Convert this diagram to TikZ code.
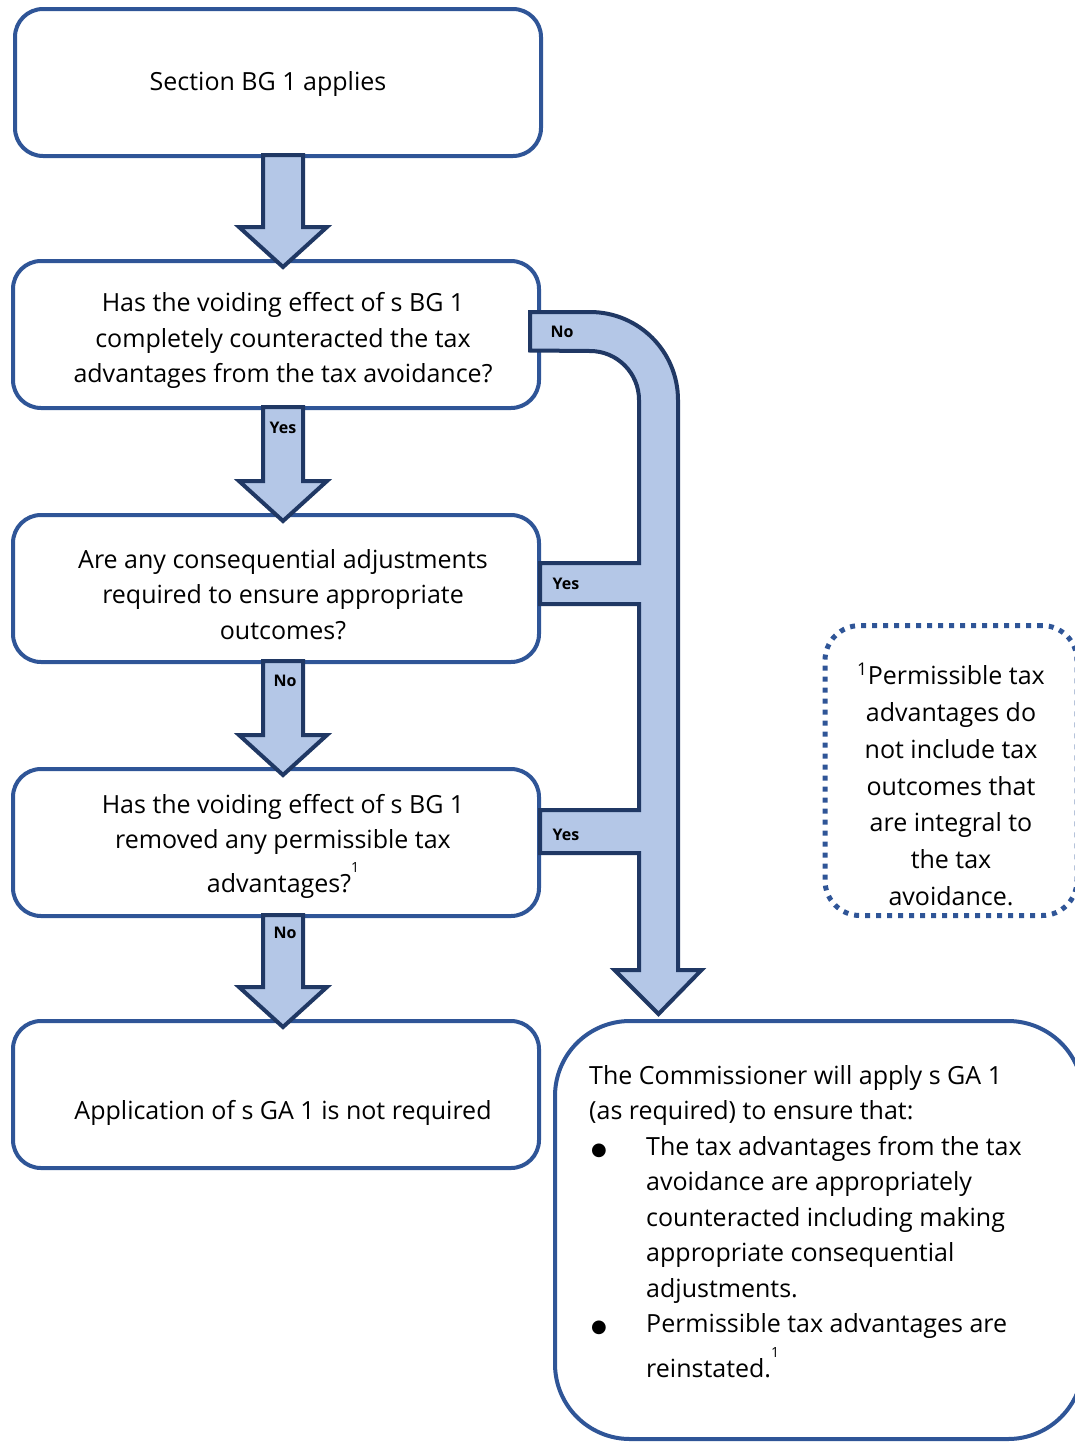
\documentclass[tikz,border=0pt]{standalone}
\usepackage{fontspec}
\setmainfont{Open Sans}
\newfontfamily\symbfont{DejaVu Sans}
\usepackage{xcolor}
\usetikzlibrary{arrows.meta,positioning,calc}

\definecolor{boxblue}{HTML}{2F5597}
\definecolor{arrowfill}{HTML}{B4C7E7}
\definecolor{arrowline}{HTML}{203864}
\newcommand{\supone}{\raisebox{0.8em}{\fontsize{14}{14}\selectfont 1}}
\newcommand{\bigdot}{\makebox[57pt][l]{\hspace*{2pt}{\symbfont\fontsize{18}{18}\selectfont ●}}}

\begin{document}
\begin{tikzpicture}[
  x=1pt, y=-1pt,
  box/.style={draw=boxblue, line width=4pt, rounded corners=28pt, outer sep=0pt,
    minimum width=526pt, minimum height=147pt, inner sep=0pt},
  boxtext/.style={align=center, inner sep=0pt,
    font=\fontsize{25}{35.5}\selectfont},
  fatarrow/.style={draw=arrowline, fill=arrowfill, line width=4pt, line join=miter},
  answer/.style={inner sep=0pt, font=\fontsize{16}{16}\selectfont\bfseries},
]
\clip (0,0) rectangle (1075,1443);

% Boxes
\node[box] (s0) at (278,82.5) {};
\node[box] (q1) at (276,334.5) {};
\node[box] (q2) at (276,588.5) {};
\node[box] (q3) at (276,842.5) {};
\node[box] (res0) at (276,1094.5) {};
\node[box, minimum width=528pt, minimum height=418pt, rounded corners=75pt] (res1) at (819,1230) {};

% Box texts
\node[boxtext] (s0t) at (268,84) {Section BG 1 applies};
\node[boxtext] (q1t) at (283,340.5) {Has the voiding effect of s BG 1\\completely counteracted the tax\\advantages from the tax avoidance?};
\node[boxtext] (q2t) at (283,594.5) {Are any consequential adjustments\\required to ensure appropriate\\outcomes?};
\node[boxtext] (q3t) at (283,846.5) {Has the voiding effect of s BG 1\\removed any permissible tax\\[7pt]advantages?\supone};
\node[boxtext] (res0t) at (283,1113) {Application of s GA 1 is not required};
\node[boxtext, align=left, anchor=north west] (res1t) at (589,1065) {The Commissioner will apply s GA 1\\
(as required) to ensure that:\\
\bigdot The tax advantages from the tax\\
\hspace*{57pt}avoidance are appropriately\\
\hspace*{57pt}counteracted including making\\
\hspace*{57pt}appropriate consequential\\
\hspace*{57pt}adjustments.\\
\bigdot Permissible tax advantages are\\[8pt]
\hspace*{57pt}reinstated.\supone};

% Footnote
\node[draw=boxblue, line width=5pt, dash pattern=on 5pt off 6pt, rounded corners=35pt,
  minimum width=252pt, minimum height=290pt] (note) at (951,770.5) {};
\node[boxtext, font=\fontsize{25}{36.8}\selectfont] (notet) at (951,784.5)
  {\textsuperscript{1}Permissible tax\\advantages do\\not include tax\\outcomes that\\are integral to\\the tax\\avoidance.};

% Downward arrows
\coordinate (col) at (283,0);
\foreach \from/\to in {s0/q1, q1/q2, q2/q3, q3/res0} {
  \draw[fatarrow] ($(\from.south -| col)+(-20,-1)$) -- ($(\to.north -| col)+(-20,-34)$)
    -- ++(-24,0) -- ($(\to.north -| col)+(0,6)$) -- ($(\to.north -| col)+(44,-34)$)
    -- ++(-24,0) -- ($(\from.south -| col)+(20,-1)$) -- cycle;
}

% Side arrow
\coordinate (rcol) at (658.5,0);
\draw[fatarrow] ($(q1.east)+(-9,-22.5)$) -- (590,312) arc[start angle=-90, end angle=0, radius=88]
  -- ($(res1.north -| rcol)+(19.5,-51)$) -- ++(23.5,0) -- ($(res1.north -| rcol)+(0,-7)$)
  -- ($(res1.north -| rcol)+(-44,-51)$) -- ++(24.5,0)
  -- ($(q3.east)+(100,10.5)$) -- ($(q3.east)+(1,10.5)$) -- ($(q3.east)+(1,-32.5)$)
  -- ($(q3.east)+(100,-32.5)$)
  -- ($(q2.east)+(100,15.5)$) -- ($(q2.east)+(1,15.5)$) -- ($(q2.east)+(1,-25.5)$)
  -- ($(q2.east)+(100,-25.5)$)
  -- (639,400) arc[start angle=0, end angle=-90, radius=49]
  -- ($(q1.east)+(-9,16)$) -- cycle;

% Answers
\node[answer] (a1) at (283,428) {Yes};
\node[answer] (a2) at (285,681) {No};
\node[answer] (a3) at (285,933) {No};
\node[answer] (a4) at (562,332) {No};
\node[answer] (a5) at (566,584) {Yes};
\node[answer] (a6) at (566,835) {Yes};
\end{tikzpicture}
\end{document}
